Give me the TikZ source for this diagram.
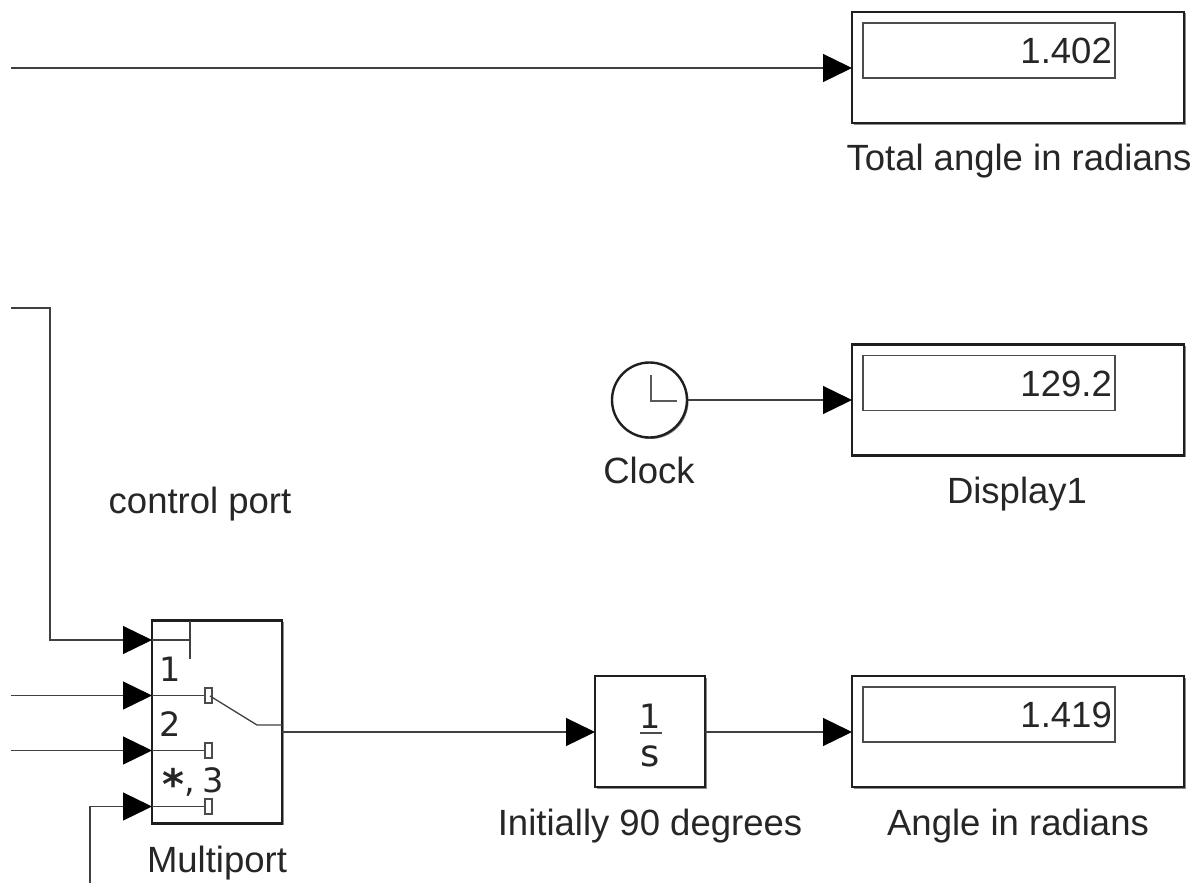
\documentclass[tikz,border=0pt]{standalone}
\usepackage{fontspec}
\setmainfont{Liberation Sans}
\newfontfamily\djv{DejaVu Sans}
\usetikzlibrary{arrows.meta,shadows}
\tikzset{
  x=1pt,y=-1pt,
  ink/.style={draw=black!75,line width=1.3pt},
  blockbox/.style={draw=black!88,line width=2.4pt,fill=white,rectangle,inner sep=0pt,
     drop shadow={shadow xshift=1.5pt,shadow yshift=-1.5pt,opacity=.45,fill=black}},
  inbox/.style={draw=black!70,line width=1.3pt,fill=white,rectangle,inner sep=0pt},
  wire/.style={draw=black!75,line width=1.3pt,-{Triangle[length=29pt,width=28pt,color=black,fill=black]}},
  lab/.style={font=\fontsize{36.5}{38}\selectfont,text=black!85,inner sep=0pt,anchor=base},
  val/.style={font=\fontsize{36.5}{38}\selectfont,text=black!85,inner sep=0pt,anchor=base east},
  num/.style={font=\djv\fontsize{33.5}{36}\selectfont,text=black!85,inner sep=0pt,anchor=base},
  contact/.style={draw=black!70,line width=1.2pt,fill=white,rectangle,inner sep=0pt,minimum width=7pt,minimum height=15pt},
}
\newcommand{\dispblock}[3]{% name, center y, value
  \node[blockbox,minimum width=332pt,minimum height=111pt] (#1) at (1018,#2) {};
  \node[inbox,minimum width=252pt,minimum height=55pt] (#1i) at (989,#2-17) {};
  \node[val] (#1v) at (1112,#2-4) {#3};
}
\begin{document}
\begin{tikzpicture}
\useasboundingbox (0,0) rectangle (1197,883);
\fill[white] (0,0) rectangle (1197,883);

% displays
\dispblock{dA}{67.5}{1.402}
\dispblock{dB}{400}{129.2}
\dispblock{dC}{731.5}{1.419}
\coordinate (dAin) at (852,68);
\coordinate (dBin) at (852,400);
\coordinate (dCin) at (852,732);
\node[lab] (dAl) at (1019,170) {Total angle in radians};
\node[lab] (dBl) at (1017,503) {Display1};
\node[lab] (dCl) at (1018,835) {Angle in radians};

% clock
\node[circle,draw=black!88,line width=2.4pt,fill=white,minimum size=75pt,inner sep=0pt,
  drop shadow={shadow xshift=1.5pt,shadow yshift=-1.5pt,opacity=.45,fill=black}] (clk) at (649.5,400) {};
\draw[draw=black!65,line width=1.2pt] (651,375) -- (651,401) -- (677,401);
\node[lab] (clkl) at (649,483) {Clock};

% integrator
\node[blockbox,minimum width=110pt,minimum height=111pt] (int) at (650,731.5) {};
\draw[draw=black!70,line width=1.3pt] (640,733) -- (662,733);
\node[num] (intn) at (650.5,728) {1};
\node[num,font=\djv\fontsize{37}{38}\selectfont] (intd) at (650.5,766) {s};
\node[lab] (intl) at (650,835) {Initially 90 degrees};

% multiport
\node[blockbox,minimum width=130pt,minimum height=203pt] (mp) at (217,722) {};
\node[contact] (c1) at (208.5,695.5) {};
\node[contact] (c2) at (208.5,750.5) {};
\node[contact] (c3) at (208.5,806.5) {};
\draw[ink] (152,640) -- (190,640);
\draw[ink] (190,621) -- (190,659);
\draw[ink] (152,695.5) -- (c1.west);
\draw[ink] (152,750.5) -- (c2.west);
\draw[ink] (152,806.5) -- (c3.west);
\draw[ink] (210,696) -- (257,725) -- (282,725);
\node[num] (n1) at (170,681) {1};
\node[num] (n2) at (170,736) {2};
\node[num] (n3) at (193,792) {{\bfseries\fontsize{42}{42}\selectfont\raisebox{-7pt}{*}},\kern7pt 3};
\node[lab] (mpl) at (217,872) {Multiport};
\node[lab] (ctl) at (200,513) {control port};

% connectors
\coordinate (s1) at (11,68);
\coordinate (s2) at (11,308);
\coordinate (s2b) at (50,308);
\coordinate (s2c) at (50,640);
\coordinate (s3) at (11,695.5);
\coordinate (s4) at (11,750.5);
\coordinate (s5) at (90,883);
\coordinate (s5b) at (90,806.5);
\coordinate (m1) at (152,640);
\coordinate (m2) at (152,695.5);
\coordinate (m3) at (152,750.5);
\coordinate (m4) at (152,806.5);
\coordinate (mo) at (282,732);
\coordinate (ii) at (595,732);
\coordinate (io) at (705,732);
\draw[wire] (s1) -- (dAin);
\draw[wire] (clk.east) -- (dBin);
\draw[wire] (s2) -- (s2b) -- (s2c) -- (m1);
\draw[wire] (s3) -- (m2);
\draw[wire] (s4) -- (m3);
\draw[wire] (s5) -- (s5b) -- (m4);
\draw[wire] (mo) -- (ii);
\draw[wire] (io) -- (dCin);
\end{tikzpicture}
\end{document}
